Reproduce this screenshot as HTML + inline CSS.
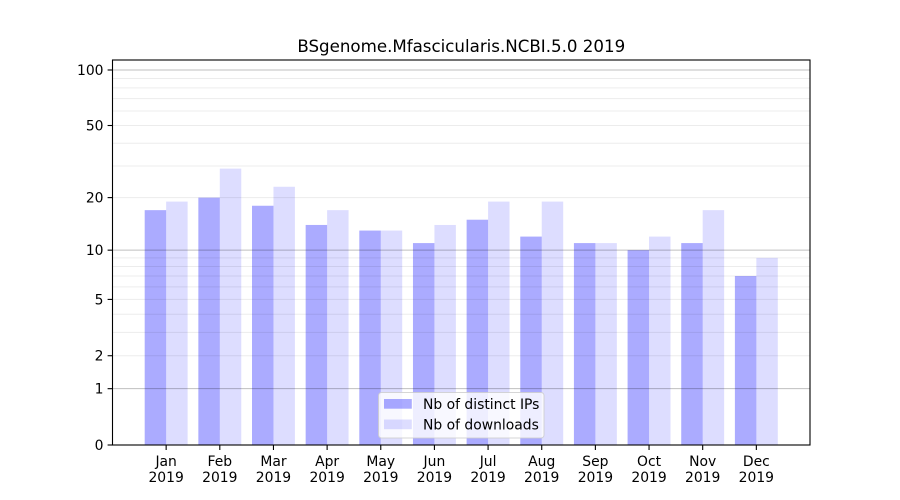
<!DOCTYPE html>
<html>
<head>
<meta charset="utf-8">
<style>
html,body{margin:0;padding:0;background:#fff;}
svg{display:block;}
text{font-family:"DejaVu Sans","Liberation Sans",sans-serif;fill:#000;}
</style>
</head>
<body>
<svg width="900" height="500" viewBox="0 0 900 500" xmlns="http://www.w3.org/2000/svg">
<rect x="0" y="0" width="900" height="500" fill="#fff"/>
<!-- bars: IPs -->
<g fill="#0000ff" fill-opacity="0.33">
<rect x="144.69" y="210.14" width="21.46" height="234.86"/>
<rect x="198.35" y="197.61" width="21.46" height="247.39"/>
<rect x="252.00" y="205.75" width="21.46" height="239.25"/>
<rect x="305.66" y="224.95" width="21.46" height="220.05"/>
<rect x="359.31" y="230.56" width="21.46" height="214.44"/>
<rect x="412.96" y="243.08" width="21.46" height="201.92"/>
<rect x="466.62" y="219.71" width="21.46" height="225.29"/>
<rect x="520.27" y="236.58" width="21.46" height="208.42"/>
<rect x="573.92" y="243.08" width="21.46" height="201.92"/>
<rect x="627.58" y="250.16" width="21.46" height="194.84"/>
<rect x="681.23" y="243.08" width="21.46" height="201.92"/>
<rect x="734.89" y="276.03" width="21.46" height="168.97"/>
</g>
<!-- bars: downloads -->
<g fill="#0000ff" fill-opacity="0.135">
<rect x="166.15" y="201.58" width="21.46" height="243.42"/>
<rect x="219.81" y="168.63" width="21.46" height="276.37"/>
<rect x="273.46" y="186.76" width="21.46" height="258.24"/>
<rect x="327.12" y="210.14" width="21.46" height="234.86"/>
<rect x="380.77" y="230.56" width="21.46" height="214.44"/>
<rect x="434.42" y="224.95" width="21.46" height="220.05"/>
<rect x="488.08" y="201.58" width="21.46" height="243.42"/>
<rect x="541.73" y="201.58" width="21.46" height="243.42"/>
<rect x="595.38" y="243.08" width="21.46" height="201.92"/>
<rect x="649.04" y="236.58" width="21.46" height="208.42"/>
<rect x="702.69" y="210.14" width="21.46" height="234.86"/>
<rect x="756.35" y="257.90" width="21.46" height="187.10"/>
</g>
<!-- minor grid -->
<g stroke="#000" stroke-opacity="0.075" stroke-width="1">
<line x1="112.5" x2="810" y1="355.73" y2="355.73"/>
<line x1="112.5" x2="810" y1="332.35" y2="332.35"/>
<line x1="112.5" x2="810" y1="314.22" y2="314.22"/>
<line x1="112.5" x2="810" y1="299.41" y2="299.41"/>
<line x1="112.5" x2="810" y1="286.88" y2="286.88"/>
<line x1="112.5" x2="810" y1="276.03" y2="276.03"/>
<line x1="112.5" x2="810" y1="266.46" y2="266.46"/>
<line x1="112.5" x2="810" y1="257.90" y2="257.90"/>
<line x1="112.5" x2="810" y1="197.61" y2="197.61"/>
<line x1="112.5" x2="810" y1="165.97" y2="165.97"/>
<line x1="112.5" x2="810" y1="143.25" y2="143.25"/>
<line x1="112.5" x2="810" y1="125.51" y2="125.51"/>
<line x1="112.5" x2="810" y1="110.96" y2="110.96"/>
<line x1="112.5" x2="810" y1="98.63" y2="98.63"/>
<line x1="112.5" x2="810" y1="87.92" y2="87.92"/>
<line x1="112.5" x2="810" y1="78.46" y2="78.46"/>
</g>
<!-- major grid -->
<g stroke="#000" stroke-opacity="0.25" stroke-width="1">
<line x1="112.5" x2="810" y1="388.68" y2="388.68"/>
<line x1="112.5" x2="810" y1="250.16" y2="250.16"/>
<line x1="112.5" x2="810" y1="69.99" y2="69.99"/>
</g>
<!-- axes frame -->
<rect x="112.5" y="60" width="697.5" height="385" fill="none" stroke="#000" stroke-width="1.1"/>
<!-- y ticks -->
<g stroke="#000" stroke-width="1.1">
<line x1="107.6" x2="112.5" y1="445" y2="445"/>
<line x1="107.6" x2="112.5" y1="388.68" y2="388.68"/>
<line x1="107.6" x2="112.5" y1="355.73" y2="355.73"/>
<line x1="107.6" x2="112.5" y1="299.41" y2="299.41"/>
<line x1="107.6" x2="112.5" y1="250.16" y2="250.16"/>
<line x1="107.6" x2="112.5" y1="197.61" y2="197.61"/>
<line x1="107.6" x2="112.5" y1="125.51" y2="125.51"/>
<line x1="107.6" x2="112.5" y1="69.99" y2="69.99"/>
</g>
<g font-size="13.9" text-anchor="end">
<text x="103.5" y="450">0</text>
<text x="103.5" y="393.7">1</text>
<text x="103.5" y="360.7">2</text>
<text x="103.5" y="304.4">5</text>
<text x="103.5" y="255.2">10</text>
<text x="103.5" y="202.6">20</text>
<text x="103.5" y="130.5">50</text>
<text x="103.5" y="75">100</text>
</g>
<!-- x ticks -->
<g stroke="#000" stroke-width="1.1">
<line x1="166.15" x2="166.15" y1="445" y2="450"/>
<line x1="219.81" x2="219.81" y1="445" y2="450"/>
<line x1="273.46" x2="273.46" y1="445" y2="450"/>
<line x1="327.12" x2="327.12" y1="445" y2="450"/>
<line x1="380.77" x2="380.77" y1="445" y2="450"/>
<line x1="434.42" x2="434.42" y1="445" y2="450"/>
<line x1="488.08" x2="488.08" y1="445" y2="450"/>
<line x1="541.73" x2="541.73" y1="445" y2="450"/>
<line x1="595.38" x2="595.38" y1="445" y2="450"/>
<line x1="649.04" x2="649.04" y1="445" y2="450"/>
<line x1="702.69" x2="702.69" y1="445" y2="450"/>
<line x1="756.35" x2="756.35" y1="445" y2="450"/>
</g>
<g font-size="13.9" text-anchor="middle">
<text x="166.15" y="466">Jan</text><text x="166.15" y="482">2019</text>
<text x="219.81" y="466">Feb</text><text x="219.81" y="482">2019</text>
<text x="273.46" y="466">Mar</text><text x="273.46" y="482">2019</text>
<text x="327.12" y="466">Apr</text><text x="327.12" y="482">2019</text>
<text x="380.77" y="466">May</text><text x="380.77" y="482">2019</text>
<text x="434.42" y="466">Jun</text><text x="434.42" y="482">2019</text>
<text x="488.08" y="466">Jul</text><text x="488.08" y="482">2019</text>
<text x="541.73" y="466">Aug</text><text x="541.73" y="482">2019</text>
<text x="595.38" y="466">Sep</text><text x="595.38" y="482">2019</text>
<text x="649.04" y="466">Oct</text><text x="649.04" y="482">2019</text>
<text x="702.69" y="466">Nov</text><text x="702.69" y="482">2019</text>
<text x="756.35" y="466">Dec</text><text x="756.35" y="482">2019</text>
</g>
<!-- title -->
<text x="461.25" y="52" font-size="16.67" text-anchor="middle">BSgenome.Mfascicularis.NCBI.5.0 2019</text>
<!-- legend -->
<rect x="378.5" y="392.5" width="165.5" height="45.5" rx="3" ry="3" fill="#fff" fill-opacity="0.8" stroke="#cccccc" stroke-opacity="0.8" stroke-width="1"/>
<rect x="384" y="399" width="27.8" height="9.7" fill="#0000ff" fill-opacity="0.33"/>
<rect x="384" y="419.5" width="27.8" height="9.7" fill="#0000ff" fill-opacity="0.135"/>
<text x="423" y="409" font-size="13.9">Nb of distinct IPs</text>
<text x="423" y="429.5" font-size="13.9">Nb of downloads</text>
</svg>
</body>
</html>
